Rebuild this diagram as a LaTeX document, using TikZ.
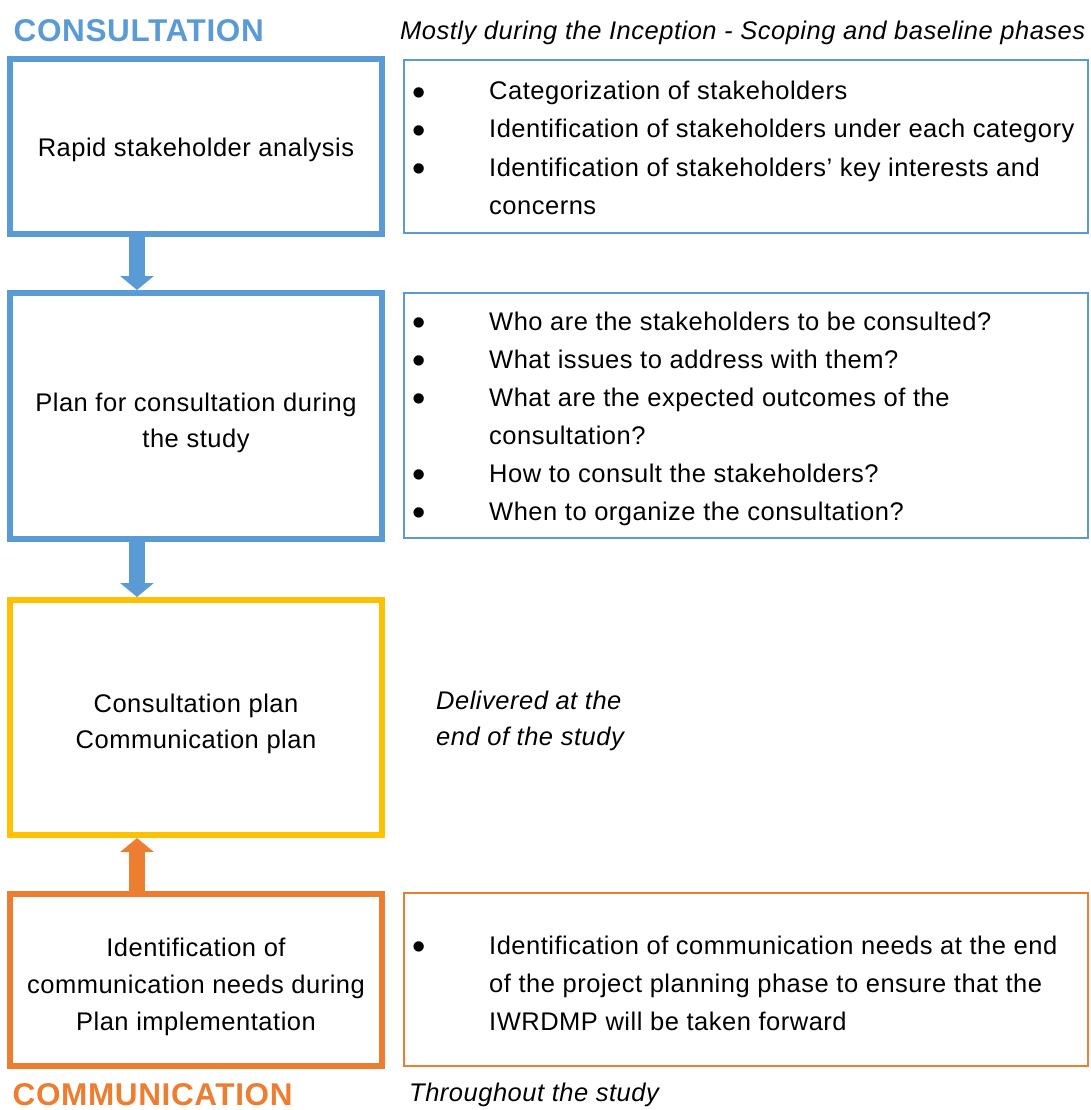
\documentclass[tikz,border=0pt]{standalone}
\usepackage{fontspec}
\setmainfont[LetterSpace=2]{Liberation Sans}
\usetikzlibrary{arrows.meta}
\definecolor{cblue}{HTML}{5B9BD5}
\definecolor{cyel}{HTML}{FFC000}
\definecolor{cora}{HTML}{ED7D31}
\begin{document}
\begin{tikzpicture}[x=1pt,y=-1pt,
  bigbox/.style={draw, line width=6pt, fill=white, inner sep=0pt, minimum width=372pt},
  sidebox/.style={draw, line width=1.6pt, inner sep=0pt, minimum width=684pt},
  ctr/.style={anchor=base, inner sep=0pt, font=\fontsize{25.5}{36}\selectfont},
  txt/.style={anchor=base west, inner sep=0pt, font=\fontsize{25.5}{36}\selectfont},
  itx/.style={anchor=base west, inner sep=0pt, font=\fontsize{25.5}{36}\selectfont\itshape},
  bul/.style={anchor=center, inner sep=0pt, font=\fontsize{38}{40}\selectfont},
  ttl/.style={anchor=base west, inner sep=0pt, font=\fontsize{31.5}{36}\selectfont\bfseries},
  blockarr/.style={line width=16pt, -{Triangle[width=33pt,length=14pt]}}]
\useasboundingbox (0,0) rectangle (1090,1110);
\coordinate (ax) at (137,0);
% left boxes
\node[bigbox, draw=cblue, minimum height=174pt] (b1) at (196,146.5) {};
\node[bigbox, draw=cblue, minimum height=246pt] (b2) at (196,416) {};
\node[bigbox, draw=cyel, minimum height=235pt] (b3) at (196,717.5) {};
\node[bigbox, draw=cora, minimum height=172pt] (b4) at (196,980) {};
% arrows
\draw[blockarr, cblue] (b1.south -| ax) -- (b2.north -| ax);
\draw[blockarr, cblue] (b2.south -| ax) -- (b3.north -| ax);
\draw[blockarr, cora] (b4.north -| ax) -- (b3.south -| ax);
% left texts
\node[ctr] (l1) at (196,157) {Rapid stakeholder analysis};
\node[ctr] (l2a) at (196,411) {Plan for consultation during};
\node[ctr] (l2b) at (196,447) {the study};
\node[ctr] (l3a) at (196,712) {Consultation plan};
\node[ctr] (l3b) at (196,748) {Communication plan};
\node[ctr] (l4a) at (196,956) {Identification of};
\node[ctr] (l4b) at (196,993) {communication needs during};
\node[ctr] (l4c) at (196,1030) {Plan implementation};
% titles
\node[ttl, text=cblue] (tcons) at (13.5,42) {CONSULTATION};
\node[ttl, text=cora] (tcomm) at (12.5,1105) {COMMUNICATION};
\node[itx] (tincep) at (400,40) {Mostly during the Inception - Scoping and baseline phases};
\node[itx] (tdel1) at (436,709) {Delivered at the};
\node[itx] (tdel2) at (436,745) {end of the study};
\node[itx] (tthr) at (409,1101) {Throughout the study};
% right boxes
\node[sidebox, draw=cblue, minimum height=173pt] (r1) at (746,146.5) {};
\node[sidebox, draw=cblue, minimum height=245pt] (r2) at (746,415.5) {};
\node[sidebox, draw=cora, minimum height=173pt] (r4) at (746,979.5) {};
% right box 1
\node[bul] (p1) at (419,97) {\textbullet};
\node[bul] (p2) at (419,135) {\textbullet};
\node[bul] (p3) at (419,173) {\textbullet};
\node[txt] (s1) at (489,100) {Categorization of stakeholders};
\node[txt] (s2) at (489,138) {Identification of stakeholders under each category};
\node[txt] (s3) at (489,176) {Identification of stakeholders’ key interests and};
\node[txt] (s4) at (489,214) {concerns};
% right box 2
\node[bul] (q1) at (419,327) {\textbullet};
\node[bul] (q2) at (419,365) {\textbullet};
\node[bul] (q3) at (419,403) {\textbullet};
\node[bul] (q4) at (419,479) {\textbullet};
\node[bul] (q5) at (419,517) {\textbullet};
\node[txt] (u1) at (489,330) {Who are the stakeholders to be consulted?};
\node[txt] (u2) at (489,368) {What issues to address with them?};
\node[txt] (u3) at (489,406) {What are the expected outcomes of the};
\node[txt] (u4) at (489,444) {consultation?};
\node[txt] (u5) at (489,482) {How to consult the stakeholders?};
\node[txt] (u6) at (489,520) {When to organize the consultation?};
% right box 4
\node[bul] (w1) at (419,951) {\textbullet};
\node[txt] (v1) at (489,954) {Identification of communication needs at the end};
\node[txt] (v2) at (489,992) {of the project planning phase to ensure that the};
\node[txt] (v3) at (489,1030) {IWRDMP will be taken forward};
\end{tikzpicture}
\end{document}
